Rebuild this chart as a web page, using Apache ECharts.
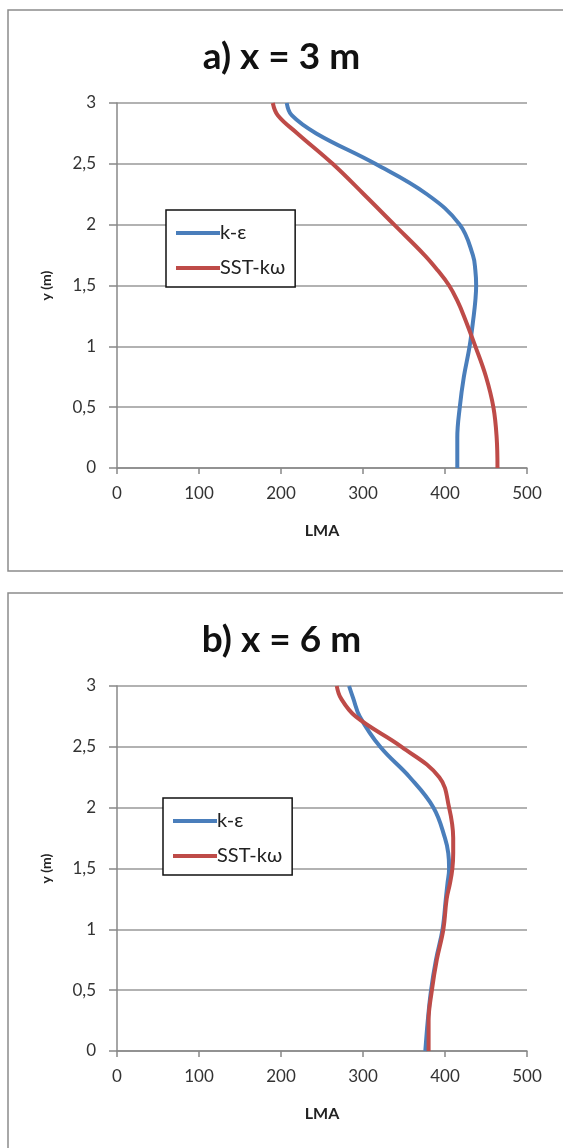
<!DOCTYPE html>
<html>
<head>
<meta charset="utf-8">
<script src="https://cdn.jsdelivr.net/npm/echarts@6/dist/echarts.min.js"></script>
<style>
  html, body { margin: 0; padding: 0; background: #fff; }
  #myChart { width: 563px; height: 1148px; }
</style>
</head>
<body>
<div id="myChart"></div>
<script>
// heights (m) where LMA was read
const heights = [0, 0.25, 0.5, 0.75, 1, 1.25, 1.375, 1.5, 1.625, 1.75, 2, 2.25, 2.5, 2.75, 2.9, 3]

// a) x = 3 m
const kEpsA = [415, 415, 418, 423, 430, 435, 437, 438, 437, 434, 418, 378, 315, 243, 213, 207]
const sstA = [464, 463, 459, 450, 437, 423, 415, 405, 391, 375, 338, 301, 263, 220, 196, 190]

// b) x = 6 m
const kEpsB = [376, 379, 383, 389, 397, 401, 403, 405, 404, 400, 386, 357, 321, 296, 288, 283]
const sstB = [380, 380, 384, 390, 398, 402, 406, 409, 410, 410, 405, 393, 347, 291, 273, 268]

const titles = ['a) x = 3 m', 'b) x = 6 m']
const seriesNames = ['k-ε', 'SST-kω']
const xTicks = [0, 100, 200, 300, 400, 500]
const yTicks = [0, 0.5, 1, 1.5, 2, 2.5, 3]

const BLUE = '#4a7ebb'
const RED = '#be4b48'
const FONT = 'Lato, "Open Sans", sans-serif'

function pairs(xs) {
  return xs.map((x, i) => [x, heights[i]])
}

const gridTops = [103, 686]

function xAxis(i) {
  return {
    gridIndex: i,
    type: 'value',
    min: xTicks[0],
    max: xTicks[xTicks.length - 1],
    interval: 100,
    name: 'LMA',
    nameLocation: 'middle',
    nameGap: 55,
    nameTextStyle: { fontFamily: FONT, fontWeight: 'bold', fontSize: 16, color: '#222' },
    axisLine: { show: true, lineStyle: { color: '#888', width: 1.5 } },
    axisTick: { show: true, length: 6, lineStyle: { color: '#888', width: 1.5 } },
    axisLabel: { fontFamily: FONT, fontSize: 17, color: '#333', margin: 17 },
    splitLine: { show: false }
  }
}

function yAxis(i) {
  return {
    gridIndex: i,
    type: 'value',
    min: yTicks[0],
    max: yTicks[yTicks.length - 1],
    interval: 0.5,
    name: 'y (m)',
    nameLocation: 'middle',
    nameRotate: 90,
    nameGap: 64,
    nameTextStyle: { fontFamily: FONT, fontWeight: 'bold', fontSize: 14, color: '#222' },
    axisLine: { show: true, lineStyle: { color: '#888', width: 1.5 } },
    axisTick: { show: true, length: 8, lineStyle: { color: '#888', width: 1.5 } },
    axisLabel: {
      fontFamily: FONT, fontSize: 17, color: '#333', margin: 21,
      formatter: v => String(v).replace('.', ',')
    },
    splitLine: { show: true, lineStyle: { color: '#999', width: 1.5 } }
  }
}

function line(name, data, idx, color) {
  return {
    name: name,
    type: 'line',
    xAxisIndex: idx,
    yAxisIndex: idx,
    data: pairs(data),
    smooth: 0.4,
    symbol: 'none',
    lineStyle: { color: color, width: 4 },
    itemStyle: { color: color },
    animation: false
  }
}

function legend(left, top) {
  return {
    orient: 'vertical',
    left: left,
    top: top,
    data: seriesNames,
    icon: 'rect',
    itemWidth: 44,
    itemHeight: 4,
    itemGap: 15,
    padding: [13, 10, 9, 10],
    borderColor: '#111',
    borderWidth: 1.5,
    backgroundColor: '#fff',
    selectedMode: false,
    textStyle: { fontFamily: FONT, fontSize: 20, color: '#222', padding: [0, 0, 0, -5] }
  }
}

const option = {
  backgroundColor: '#fff',
  title: titles.map((t, i) => ({
    text: t,
    left: 'center',
    top: i === 0 ? 34 : 617,
    textStyle: { fontFamily: FONT, fontWeight: 'bold', fontSize: 37, color: '#111' }
  })),
  graphic: [
    { type: 'rect', shape: { x: 8, y: 10, width: 600, height: 561 }, style: { fill: 'none', stroke: '#8c8c8c', lineWidth: 1.5 }, z: -1 },
    { type: 'rect', shape: { x: 8, y: 593, width: 600, height: 600 }, style: { fill: 'none', stroke: '#8c8c8c', lineWidth: 1.5 }, z: -1 }
  ],
  legend: [legend(166, 210), legend(163, 798)],
  grid: gridTops.map(t => ({ left: 117, top: t, width: 410, height: 365 })),
  xAxis: [xAxis(0), xAxis(1)],
  yAxis: [yAxis(0), yAxis(1)],
  series: [
    line(seriesNames[0], kEpsA, 0, BLUE),
    line(seriesNames[1], sstA, 0, RED),
    line(seriesNames[0], kEpsB, 1, BLUE),
    line(seriesNames[1], sstB, 1, RED)
  ]
}

const myChart = echarts.init(document.getElementById('myChart'))
myChart.setOption(option)
</script>
</body>
</html>
